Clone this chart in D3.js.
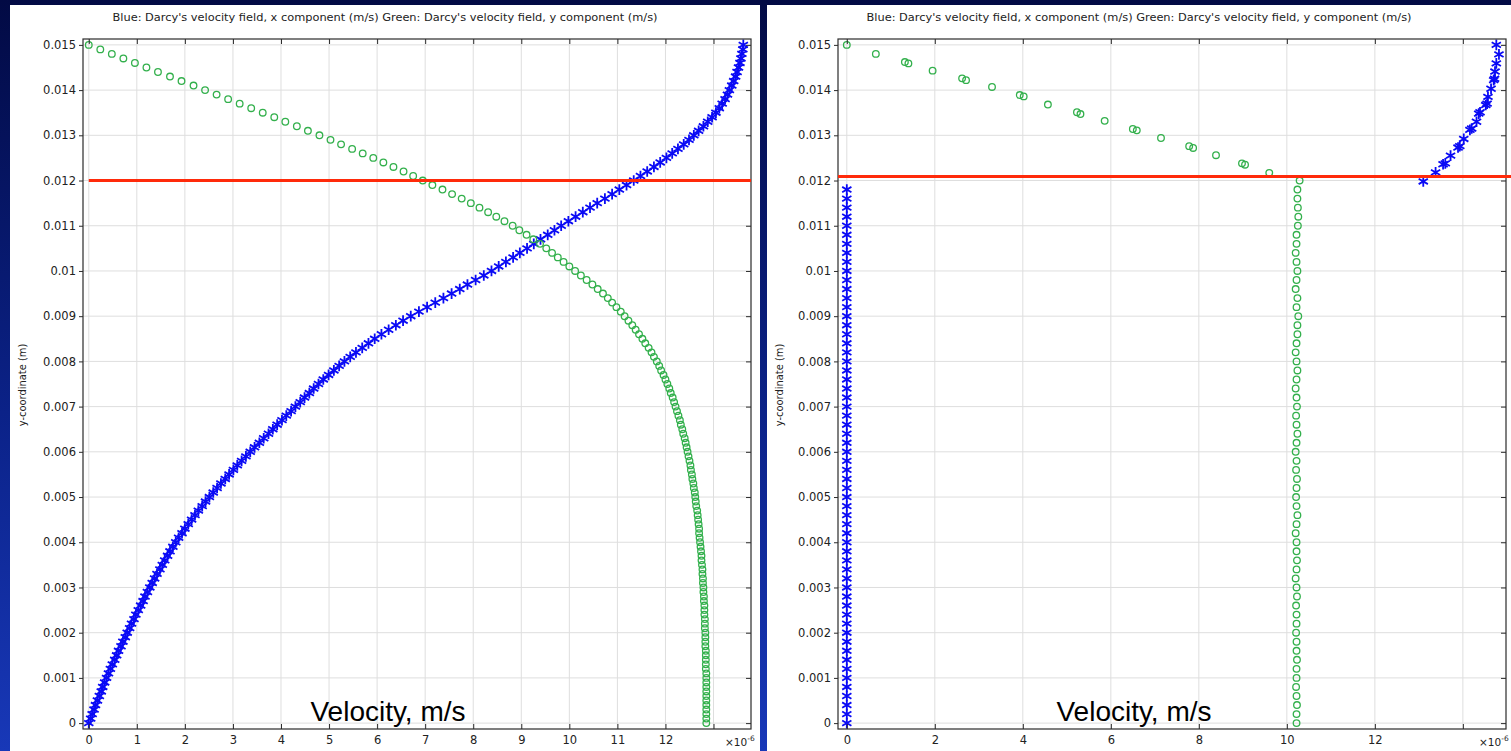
<!DOCTYPE html>
<html>
<head>
<meta charset="utf-8">
<script src="https://cdn.jsdelivr.net/npm/d3@7"></script>
<style>
  body { margin: 0; background: #0a1c78; }
  svg { display: block; }
</style>
</head>
<body>
<svg id="chart" width="1511" height="751"></svg>
<script>
// y-coordinate values are kept in mm, the axis shows them in m
const leftYmm = [
  0.0, 0.1, 0.2, 0.3, 0.4, 0.5, 0.6, 0.7, 0.8, 0.9,
  1.0, 1.1, 1.2, 1.3, 1.4, 1.5, 1.6, 1.7, 1.8, 1.9,
  2.0, 2.1, 2.2, 2.3, 2.4, 2.5, 2.6, 2.7, 2.8, 2.9,
  3.0, 3.1, 3.2, 3.3, 3.4, 3.5, 3.6, 3.7, 3.8, 3.9,
  4.0, 4.1, 4.2, 4.3, 4.4, 4.5, 4.6, 4.7, 4.8, 4.9,
  5.0, 5.1, 5.2, 5.3, 5.4, 5.5, 5.6, 5.7, 5.8, 5.9,
  6.0, 6.1, 6.2, 6.3, 6.4, 6.5, 6.6, 6.7, 6.8, 6.9,
  7.0, 7.1, 7.2, 7.3, 7.4, 7.5, 7.6, 7.7, 7.8, 7.9,
  8.0, 8.1, 8.2, 8.3, 8.4, 8.5, 8.6, 8.7, 8.8, 8.9,
  9.0, 9.1, 9.2, 9.3, 9.4, 9.5, 9.6, 9.7, 9.8, 9.9,
  10.0, 10.1, 10.2, 10.3, 10.4, 10.5, 10.6, 10.7, 10.8, 10.9,
  11.0, 11.1, 11.2, 11.3, 11.4, 11.5, 11.6, 11.7, 11.8, 11.9,
  12.0, 12.1, 12.2, 12.3, 12.4, 12.5, 12.6, 12.7, 12.8, 12.9,
  13.0, 13.1, 13.2, 13.3, 13.4, 13.5, 13.6, 13.7, 13.8, 13.9,
  14.0, 14.1, 14.2, 14.3, 14.4, 14.5, 14.6, 14.7, 14.8, 14.9,
  15.0
];
// x component (blue), units of 1e-6 m/s
const leftBlueX = [
  0.00, 0.04, 0.07, 0.11, 0.14, 0.18, 0.22, 0.26, 0.29, 0.33,
  0.37, 0.41, 0.45, 0.49, 0.54, 0.58, 0.62, 0.67, 0.71, 0.76,
  0.80, 0.85, 0.89, 0.94, 0.98, 1.03, 1.08, 1.13, 1.17, 1.22,
  1.27, 1.32, 1.37, 1.42, 1.48, 1.53, 1.58, 1.64, 1.69, 1.75,
  1.81, 1.87, 1.94, 2.00, 2.07, 2.14, 2.21, 2.28, 2.36, 2.43,
  2.51, 2.59, 2.67, 2.75, 2.84, 2.92, 3.01, 3.09, 3.18, 3.27,
  3.36, 3.45, 3.55, 3.64, 3.74, 3.83, 3.92, 4.02, 4.11, 4.21,
  4.30, 4.40, 4.49, 4.59, 4.68, 4.78, 4.88, 4.99, 5.10, 5.21,
  5.32, 5.44, 5.56, 5.69, 5.82, 5.95, 6.09, 6.24, 6.39, 6.54,
  6.70, 6.87, 7.04, 7.21, 7.38, 7.55, 7.72, 7.88, 8.05, 8.22,
  8.38, 8.53, 8.68, 8.83, 8.97, 9.12, 9.26, 9.40, 9.55, 9.69,
  9.83, 9.98, 10.13, 10.28, 10.43, 10.58, 10.74, 10.89, 11.04, 11.19,
  11.34, 11.48, 11.62, 11.76, 11.89, 12.02, 12.14, 12.26, 12.38, 12.49,
  12.59, 12.69, 12.79, 12.88, 12.97, 13.05, 13.12, 13.18, 13.24, 13.29,
  13.33, 13.38, 13.42, 13.46, 13.49, 13.52, 13.55, 13.57, 13.59, 13.61,
  13.62
];
// y component (green), units of 1e-6 m/s
const leftGreenX = [
  12.85, 12.85, 12.85, 12.85, 12.85, 12.85, 12.85, 12.85, 12.85, 12.85,
  12.85, 12.85, 12.84, 12.84, 12.84, 12.84, 12.84, 12.83, 12.83, 12.83,
  12.83, 12.82, 12.82, 12.82, 12.81, 12.81, 12.81, 12.80, 12.80, 12.79,
  12.79, 12.78, 12.78, 12.77, 12.77, 12.76, 12.75, 12.75, 12.74, 12.73,
  12.72, 12.71, 12.70, 12.70, 12.69, 12.68, 12.67, 12.66, 12.64, 12.63,
  12.62, 12.61, 12.59, 12.58, 12.56, 12.55, 12.53, 12.52, 12.50, 12.48,
  12.46, 12.44, 12.42, 12.40, 12.37, 12.35, 12.32, 12.30, 12.27, 12.24,
  12.21, 12.18, 12.15, 12.11, 12.08, 12.04, 12.00, 11.96, 11.91, 11.87,
  11.82, 11.76, 11.71, 11.65, 11.58, 11.52, 11.45, 11.38, 11.31, 11.23,
  11.15, 11.07, 10.98, 10.89, 10.80, 10.70, 10.59, 10.48, 10.36, 10.24,
  10.12, 10.00, 9.88, 9.76, 9.64, 9.52, 9.39, 9.25, 9.11, 8.96,
  8.82, 8.65, 8.48, 8.31, 8.13, 7.95, 7.76, 7.56, 7.36, 7.15,
  6.95, 6.75, 6.55, 6.34, 6.13, 5.92, 5.70, 5.48, 5.25, 5.03,
  4.80, 4.56, 4.33, 4.09, 3.86, 3.62, 3.38, 3.14, 2.90, 2.66,
  2.42, 2.18, 1.93, 1.69, 1.44, 1.20, 0.96, 0.72, 0.48, 0.24,
  0.00
];

// right plot
const rightBlueTopX = [13.10, 13.38, 13.55, 13.60, 13.72, 13.89, 13.93, 14.02, 14.16, 14.20, 14.31, 14.36,
  14.39, 14.52, 14.55, 14.57, 14.64, 14.70, 14.72, 14.73, 14.76, 14.82, 14.76];
const rightBlueTopYmm = [11.98, 12.18, 12.36, 12.38, 12.55, 12.73, 12.76, 12.92, 13.12, 13.15, 13.30, 13.48,
  13.51, 13.67, 13.70, 13.85, 14.03, 14.22, 14.25, 14.41, 14.59, 14.79, 15.00];
const rightBlueLowX = 0;
const rightBlueLowYmm = [
  0.0, 0.2, 0.4, 0.6, 0.8, 1.0, 1.2, 1.4, 1.6, 1.8,
  2.0, 2.2, 2.4, 2.6, 2.8, 3.0, 3.2, 3.4, 3.6, 3.8,
  4.0, 4.2, 4.4, 4.6, 4.8, 5.0, 5.2, 5.4, 5.6, 5.8,
  6.0, 6.2, 6.4, 6.6, 6.8, 7.0, 7.2, 7.4, 7.6, 7.8,
  8.0, 8.2, 8.4, 8.6, 8.8, 9.0, 9.2, 9.4, 9.6, 9.8,
  10.0, 10.2, 10.4, 10.6, 10.8, 11.0, 11.2, 11.4, 11.6, 11.8
];
const rightGreenTopX = [0.00, 0.66, 1.32, 1.40, 1.95, 2.62, 2.71, 3.30, 3.93, 4.02, 4.57, 5.23,
  5.31, 5.86, 6.50, 6.59, 7.14, 7.78, 7.87, 8.39, 8.98, 9.05, 9.60];
const rightGreenTopYmm = [15.00, 14.80, 14.62, 14.59, 14.43, 14.26, 14.22, 14.07, 13.89, 13.86, 13.68, 13.51,
  13.47, 13.32, 13.14, 13.11, 12.94, 12.76, 12.72, 12.56, 12.38, 12.35, 12.17];
const rightGreenLowYmm = [
  0.0, 0.2, 0.4, 0.6, 0.8, 1.0, 1.2, 1.4, 1.6, 1.8,
  2.0, 2.2, 2.4, 2.6, 2.8, 3.0, 3.2, 3.4, 3.6, 3.8,
  4.0, 4.2, 4.4, 4.6, 4.8, 5.0, 5.2, 5.4, 5.6, 5.8,
  6.0, 6.2, 6.4, 6.6, 6.8, 7.0, 7.2, 7.4, 7.6, 7.8,
  8.0, 8.2, 8.4, 8.6, 8.8, 9.0, 9.2, 9.4, 9.6, 9.8,
  10.0, 10.2, 10.4, 10.6, 10.8, 11.0, 11.2, 11.4, 11.6, 11.8,
  12.0
];
const rightGreenLowX = [
  10.22, 10.22, 10.23, 10.22, 10.21, 10.22, 10.22, 10.23, 10.22, 10.22,
  10.21, 10.22, 10.22, 10.21, 10.23, 10.22, 10.20, 10.22, 10.23, 10.22,
  10.22, 10.20, 10.22, 10.24, 10.22, 10.21, 10.22, 10.23, 10.21, 10.22,
  10.20, 10.22, 10.24, 10.22, 10.21, 10.23, 10.22, 10.20, 10.22, 10.24,
  10.22, 10.20, 10.22, 10.24, 10.24, 10.26, 10.22, 10.24, 10.20, 10.22,
  10.24, 10.22, 10.20, 10.22, 10.22, 10.25, 10.26, 10.25, 10.24, 10.24,
  10.29
];

// red marker lines drawn on the slide (mm)
const redLineYmm = [12.0, 12.09];

const yTicksMm = [0, 1, 2, 3, 4, 5, 6, 7, 8, 9, 10, 11, 12, 13, 14, 15];
const yTickLabels = ["0", "0.001", "0.002", "0.003", "0.004", "0.005", "0.006", "0.007",
  "0.008", "0.009", "0.01", "0.011", "0.012", "0.013", "0.014", "0.015"];
const leftXTicks = [0, 1, 2, 3, 4, 5, 6, 7, 8, 9, 10, 11, 12, 13];
const leftXLabels = ["0", "1", "2", "3", "4", "5", "6", "7", "8", "9", "10", "11", "12", ""];
const rightXTicks = [0, 2, 4, 6, 8, 10, 12, 14];
const rightXLabels = ["0", "2", "4", "6", "8", "10", "12", ""];

const titleText = "Blue: Darcy's velocity field, x component (m/s) Green: Darcy's velocity field, y component (m/s)";
const yLabelText = "y-coordinate (m)";
const noteText = "Velocity, m/s";

const W = 1511, H = 751;
const AX_TOP = 39, AX_BOTTOM = 729;
const BLUE = "#0a0af5", GREEN = "#33b04c", RED = "#ff2a0a";
const FONT = "'DejaVu Sans', sans-serif";

const svg = d3.select("#chart");

// slide background
const grad = svg.append("defs").append("linearGradient")
  .attr("id", "bg").attr("x1", 0).attr("y1", 0).attr("x2", 0).attr("y2", 1);
grad.append("stop").attr("offset", "0%").attr("stop-color", "#020a44");
grad.append("stop").attr("offset", "55%").attr("stop-color", "#0b2288");
grad.append("stop").attr("offset", "100%").attr("stop-color", "#1838b8");
svg.append("rect").attr("width", W).attr("height", H).attr("fill", "url(#bg)");

const star = d3.symbol().type(d3.symbolAsterisk).size(80);

function drawPanel(p) {
  const g = svg.append("g");

  g.append("rect")
    .attr("x", p.px).attr("y", 5)
    .attr("width", p.pw).attr("height", H - 5)
    .attr("fill", "#fff");

  const x = d3.scaleLinear().domain(p.xDomain).range([p.ax0, p.ax1]);
  const y = d3.scaleLinear().domain([-0.13, 15.13]).range([AX_BOTTOM, AX_TOP]);

  // grid
  g.append("g").selectAll("line").data(p.xTicks).join("line")
    .attr("x1", (d) => x(d)).attr("x2", (d) => x(d))
    .attr("y1", AX_TOP).attr("y2", AX_BOTTOM)
    .attr("stroke", "#dedede").attr("stroke-width", 1);
  g.append("g").selectAll("line").data(yTicksMm).join("line")
    .attr("x1", p.ax0).attr("x2", p.ax1)
    .attr("y1", (d) => y(d)).attr("y2", (d) => y(d))
    .attr("stroke", "#dedede").attr("stroke-width", 1);

  // blue stars
  g.append("g").selectAll("path").data(p.blue).join("path")
    .attr("d", star)
    .attr("transform", (d) => `translate(${x(d[0])},${y(d[1])})`)
    .attr("fill", "none").attr("stroke", BLUE).attr("stroke-width", 1.8);

  // green circles
  g.append("g").selectAll("circle").data(p.green).join("circle")
    .attr("cx", (d) => x(d[0])).attr("cy", (d) => y(d[1]))
    .attr("r", 3.3)
    .attr("fill", "none").attr("stroke", GREEN).attr("stroke-width", 1.3);

  // frame
  g.append("rect")
    .attr("x", p.ax0).attr("y", AX_TOP)
    .attr("width", p.ax1 - p.ax0).attr("height", AX_BOTTOM - AX_TOP)
    .attr("fill", "none").attr("stroke", "#2b2b2b").attr("stroke-width", 1.2);

  // axes
  const bottom = g.append("g").attr("transform", `translate(0,${AX_BOTTOM})`)
    .call(d3.axisBottom(x).tickValues(p.xTicks)
      .tickFormat((d, i) => p.xLabels[i]).tickSizeInner(-5).tickSizeOuter(0).tickPadding(7));
  const top = g.append("g").attr("transform", `translate(0,${AX_TOP})`)
    .call(d3.axisTop(x).tickValues(p.xTicks).tickFormat("").tickSizeInner(-5).tickSizeOuter(0));
  const left = g.append("g").attr("transform", `translate(${p.ax0},0)`)
    .call(d3.axisLeft(y).tickValues(yTicksMm)
      .tickFormat((d, i) => yTickLabels[i]).tickSizeInner(4).tickSizeOuter(0).tickPadding(3));
  const right = g.append("g").attr("transform", `translate(${p.ax1},0)`)
    .call(d3.axisRight(y).tickValues(yTicksMm).tickFormat("").tickSizeInner(-5).tickSizeOuter(0));

  [bottom, top, left, right].forEach((a) => {
    a.select(".domain").remove();
    a.selectAll(".tick line").attr("stroke", "#2b2b2b");
    a.selectAll("text").attr("font-family", FONT).attr("font-size", 11.5).attr("fill", "#222");
  });

  // x10^-6 multiplier
  const mult = g.append("text")
    .attr("x", p.ax1 - p.multOff).attr("y", AX_BOTTOM + 17)
    .attr("font-family", FONT).attr("font-size", 10.5).attr("fill", "#222");
  mult.append("tspan").text("\u00d710");
  mult.append("tspan").attr("dy", -5).attr("font-size", 7.5).text("-6");

  // red line
  g.append("line")
    .attr("x1", p.redX0 === null ? p.ax0 : x(p.redX0)).attr("x2", p.redX1)
    .attr("y1", y(p.redY)).attr("y2", y(p.redY))
    .attr("stroke", RED).attr("stroke-width", 3);

  // title and labels
  g.append("text")
    .attr("x", p.px + p.pw / 2).attr("y", 21)
    .attr("text-anchor", "middle")
    .attr("font-family", "'DejaVu Sans Condensed', 'DejaVu Sans', sans-serif")
    .attr("font-size", 11)
    .attr("textLength", 545).attr("lengthAdjust", "spacingAndGlyphs")
    .attr("fill", "#222")
    .text(titleText);

  g.append("text")
    .attr("transform", `translate(${p.px + 16},385) rotate(-90)`)
    .attr("text-anchor", "middle")
    .attr("font-family", "'DejaVu Sans Condensed', 'DejaVu Sans', sans-serif")
    .attr("font-size", 11).attr("fill", "#222")
    .text(yLabelText);

  g.append("text")
    .attr("x", p.noteX).attr("y", 721)
    .attr("text-anchor", "middle")
    .attr("font-family", "'Liberation Sans', Arial, sans-serif")
    .attr("font-size", 28).attr("fill", "#000")
    .text(noteText);
}

drawPanel({
  px: 10, pw: 750, ax0: 83, ax1: 751,
  xDomain: [-0.12, 13.78],
  xTicks: leftXTicks, xLabels: leftXLabels, multOff: 26,
  blue: leftYmm.map((v, i) => [leftBlueX[i], v]),
  green: leftYmm.map((v, i) => [leftGreenX[i], v]),
  redY: redLineYmm[0], redX0: 0, redX1: 751,
  noteX: 388
});

drawPanel({
  px: 767, pw: 744, ax0: 838, ax1: 1506,
  xDomain: [-0.2, 14.98],
  xTicks: rightXTicks, xLabels: rightXLabels, multOff: 27,
  blue: rightBlueLowYmm.map((v) => [rightBlueLowX, v])
    .concat(rightBlueTopYmm.map((v, i) => [rightBlueTopX[i], v])),
  green: rightGreenLowYmm.map((v, i) => [rightGreenLowX[i], v])
    .concat(rightGreenTopYmm.map((v, i) => [rightGreenTopX[i], v])),
  redY: redLineYmm[1], redX0: null, redX1: W,
  noteX: 1134
});
</script>
</body>
</html>
